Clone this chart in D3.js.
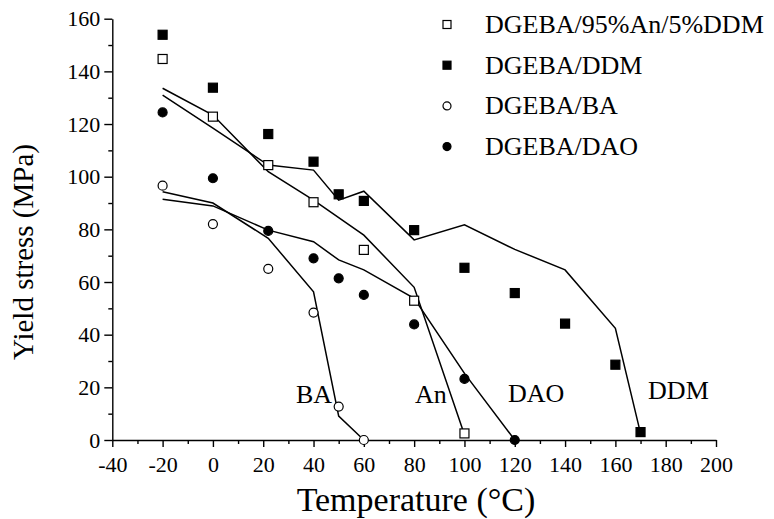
<!DOCTYPE html>
<html>
<head>
<meta charset="utf-8">
<script src="https://cdn.jsdelivr.net/npm/d3@7"></script>
<style>
  body { margin: 0; background: #fff; }
  svg text { font-family: "Liberation Serif", "Times New Roman", serif; fill: #000; }
</style>
</head>
<body>
<div id="chart-area"></div>
<script>
// measured points
const tempAn = [-20, 0, 22, 40, 60, 80, 100];
const stressAn = [144.7, 122.8, 104.4, 90.3, 72.2, 52.9, 2.5];
const tempDDM = [-20, 0, 22, 40, 50, 60, 80, 100, 120, 140, 160, 170];
const stressDDM = [153.9, 133.8, 116.2, 105.7, 93.3, 90.8, 79.7, 65.4, 55.8, 44.2, 28.6, 3.0];
const tempBA = [-20, 0, 22, 40, 50, 60];
const stressBA = [96.6, 82, 65, 48.4, 12.7, 0];
const tempDAO = [-20, 0, 22, 40, 50, 60, 80, 100, 120];
const stressDAO = [124.4, 99.4, 79.4, 69.0, 61.4, 55.1, 43.9, 23.2, 0];

// model curves
const fitTempAn = [-20, 0, 22, 40, 60, 80, 100];
const fitAn = [133.6, 123.4, 101.9, 91.1, 77.8, 58, 2];
const fitTempDDM = [-20, 0, 22, 40, 50, 60, 80, 100, 120, 140, 160, 170];
const fitDDM = [131, 118.4, 104.4, 102.5, 91.1, 94.5, 76, 81.7, 72.4, 64.6, 42.4, 2.5];
const fitTempBA = [-20, 0, 22, 40, 50, 60];
const fitBA = [94.3, 90, 76.6, 56.3, 9.1, 0];
const fitTempDAO = [-20, 0, 22, 40, 50, 60, 80, 100, 120];
const fitDAO = [91.4, 88.9, 79.7, 75.3, 68.4, 64.6, 53.8, 25.3, 0];

const seriesNames = ["DGEBA/95%An/5%DDM", "DGEBA/DDM", "DGEBA/BA", "DGEBA/DAO"];
const curveLabels = ["BA", "An", "DAO", "DDM"];
const curveLabelT = [33, 80.3, 117.3, 173];
const curveLabelS = [14, 14, 14.5, 15.5];

const xTicks = d3.range(-40, 201, 20);
const yTicks = d3.range(0, 161, 20);

const margin = {top: 18.7, right: 58, bottom: 79, left: 112.3};
const W = 774, H = 519;
const width = W - margin.left - margin.right;
const height = H - margin.top - margin.bottom;

const svg = d3.select("#chart-area")
  .append("svg")
    .attr("width", W)
    .attr("height", H)
  .append("g")
    .attr("transform", `translate(${margin.left}, ${margin.top})`);

const x = d3.scaleLinear().domain([-40, 200]).range([0, width]);
const y = d3.scaleLinear().domain([0, 160]).range([height, 0]);

// minor ticks
svg.append("g")
  .attr("transform", `translate(0, ${height})`)
  .call(d3.axisBottom(x).tickValues(d3.range(-30, 200, 20)).tickSize(4).tickFormat(""))
  .call(g => g.select(".domain").remove());
svg.append("g")
  .call(d3.axisLeft(y).tickValues(d3.range(10, 160, 20)).tickSize(4).tickFormat(""))
  .call(g => g.select(".domain").remove());

// major axes
const xAxis = svg.append("g")
  .attr("transform", `translate(0, ${height})`)
  .call(d3.axisBottom(x).tickValues(xTicks).tickSize(7).tickSizeOuter(0).tickPadding(9).tickFormat(d => String(d)));
const yAxis = svg.append("g")
  .call(d3.axisLeft(y).tickValues(yTicks).tickSize(8).tickSizeOuter(0).tickPadding(4).tickFormat(d => String(d)));

svg.selectAll("g").attr("font-family", null).attr("font-size", null);
svg.selectAll(".tick line, .domain").attr("stroke", "#000").attr("stroke-width", 1.4);
svg.selectAll(".tick text")
  .attr("fill", "#000")
  .style("font-size", "22px");

// axis titles
svg.append("text")
  .attr("x", 416 - margin.left)
  .attr("y", 511 - margin.top)
  .attr("text-anchor", "middle")
  .style("font-size", "34px")
  .text("Temperature (°C)");

svg.append("text")
  .attr("transform", `translate(${33 - margin.left}, ${252 - margin.top}) rotate(-90)`)
  .attr("text-anchor", "middle")
  .style("font-size", "29px")
  .text("Yield stress (MPa)");

// curves
const line = d3.line().x(d => x(d[0])).y(d => y(d[1]));
const fits = [
  d3.zip(fitTempAn, fitAn),
  d3.zip(fitTempDDM, fitDDM),
  d3.zip(fitTempBA, fitBA),
  d3.zip(fitTempDAO, fitDAO)
];
svg.selectAll(".fit")
  .data(fits)
  .join("path")
    .attr("class", "fit")
    .attr("fill", "none")
    .attr("stroke", "#000")
    .attr("stroke-width", 1.5)
    .attr("d", line);

// markers
const pts = [
  {shape: "square", fill: "#fff", data: d3.zip(tempAn, stressAn)},
  {shape: "square", fill: "#000", data: d3.zip(tempDDM, stressDDM)},
  {shape: "circle", fill: "#fff", data: d3.zip(tempBA, stressBA)},
  {shape: "circle", fill: "#000", data: d3.zip(tempDAO, stressDAO)}
];

function drawMarker(g, shape, fill, cx, cy, s) {
  if (shape === "square") {
    g.append("rect")
      .attr("x", cx - s / 2).attr("y", cy - s / 2)
      .attr("width", s).attr("height", s)
      .attr("fill", fill).attr("stroke", "#000").attr("stroke-width", 1.2);
  } else {
    g.append("circle")
      .attr("cx", cx).attr("cy", cy).attr("r", s / 2)
      .attr("fill", fill).attr("stroke", "#000").attr("stroke-width", 1.2);
  }
}

pts.forEach(p => {
  const g = svg.append("g");
  p.data.forEach(d => drawMarker(g, p.shape, p.fill, x(d[0]), y(d[1]), 9));
});

// curve labels
svg.selectAll(".clabel")
  .data(curveLabels)
  .join("text")
    .attr("class", "clabel")
    .attr("x", (d, i) => x(curveLabelT[i]))
    .attr("y", (d, i) => y(curveLabelS[i]))
    .style("font-size", "26px")
    .text(d => d);

// legend
const legend = svg.append("g").attr("transform", `translate(${447 - margin.left}, ${33 - margin.top})`);
seriesNames.forEach((name, i) => {
  const row = legend.append("g").attr("transform", `translate(0, ${i * 40.7})`);
  drawMarker(row, pts[i].shape, pts[i].fill, 0, -8.5, 8);
  row.append("text")
    .attr("x", 38)
    .attr("y", 0)
    .style("font-size", "26px")
    .text(name);
});
</script>
</body>
</html>
